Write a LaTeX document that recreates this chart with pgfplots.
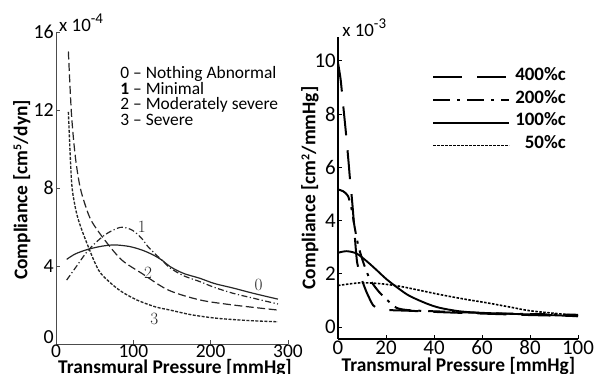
\documentclass[border=0pt]{standalone}
\usepackage{pgfplots}
\pgfplotsset{compat=1.18}
\usepackage{fontspec}
\setmainfont{Carlito}
\definecolor{curvegray}{HTML}{262626}
\begin{document}
\begin{tikzpicture}
\useasboundingbox (0,0) rectangle (594bp,374bp);
% ---------------- left panel ----------------
\begin{axis}[
  at={(56bp,30bp)}, anchor=south west,
  scale only axis, width=232bp, height=312bp,
  xmin=0, xmax=300, ymin=0, ymax=16,
  axis x line*=bottom, axis y line*=left,
  axis line style={-, draw=black!70, line width=1bp},
  xtick={0,100,200,300}, ytick={0,4,8,12,16},
  yticklabels={{\raisebox{7bp}[12.6bp][0pt]{0}},4,8,12,16},
  tick align=inside, major tick length=4bp,
  tick style={draw=black!70, line width=0.8bp},
  /pgf/number format/assume math mode=true,
  ticklabel style={font=\fontsize{20}{20}\selectfont},
  xticklabel style={inner sep=0.5bp, font=\fontsize{19.5}{19.5}\selectfont},
  yticklabel style={inner sep=2bp},
  xlabel={Transmural Pressure [mmHg]},
  xlabel style={font=\bfseries\fontsize{19.5}{19.5}\selectfont, inner sep=0pt, at={(axis description cs:0.513,-0.0945)}, anchor=base},
  ylabel={Compliance [cm\raisebox{6bp}{\fontsize{12}{12}\selectfont 5}/dyn]},
  ylabel style={font=\bfseries\fontsize{19.5}{19.5}\selectfont, inner sep=0pt, at={(axis description cs:-0.147,0.494)}, anchor=center},
  clip=false,
]
\addplot[curvegray, line width=1.2bp, smooth, tension=0.5] coordinates {
 (13.8,4.34) (25,4.62) (41.8,4.86) (60,5.02) (76,5.08) (95,5.0) (111,4.82) (125,4.58) (137,4.3) (147.5,3.97) (165,3.62) (186,3.37) (205,3.1) (229,2.87) (255,2.6) (287,2.3)};
\addplot[curvegray, line width=1.2bp, smooth, tension=0.5, dash pattern=on 6bp off 2.5bp on 1.2bp off 2.5bp] coordinates {
 (13.8,3.28) (25,3.9) (42,4.82) (63,5.59) (83,5.98) (98,5.85) (110,5.45) (119,4.99) (130,4.55) (137,4.3) (147.5,3.9) (165,3.5) (186,3.2) (205,2.9) (229,2.6) (255,2.35) (287,2.05)};
\addplot[curvegray, line width=1.2bp, smooth, tension=0.5, dash pattern=on 8bp off 3.5bp] coordinates {
 (16,15.0) (20,11.8) (25,9.6) (31,8.07) (38,7.1) (46,6.3) (63,5.33) (85,4.31) (111,3.62) (145,2.77) (186,2.26) (229,2.0) (287,1.74)};
\addplot[curvegray, line width=1.35bp, smooth, tension=0.5, dash pattern=on 3bp off 1.5bp] coordinates {
 (16,11.9) (20,8.4) (24,7.2) (29,6.36) (40,5.16) (55,3.79) (70,3.15) (85,2.68) (105,2.25) (128,1.91) (147.5,1.74) (175,1.5) (208,1.32) (250,1.2) (287,1.14)};
\node[anchor=base west, inner sep=0, font=\fontsize{19}{19}\selectfont] at (axis description cs:0.013,1.0) {x 10\raisebox{8bp}{\fontsize{15}{15}\selectfont -4}};
\node[anchor=base west, inner sep=0, font=\fontsize{17.5}{17.5}\selectfont] at (axis cs:83,13.64) {0 -- Nothing Abnormal};
\node[anchor=base west, inner sep=0, font=\fontsize{17.5}{17.5}\selectfont] at (axis cs:83,12.82) {\textbf{1} -- Minimal};
\node[anchor=base west, inner sep=0, font=\fontsize{17.5}{17.5}\selectfont] at (axis cs:83,12.0) {2 -- Moderately severe};
\node[anchor=base west, inner sep=0, font=\fontsize{17.5}{17.5}\selectfont] at (axis cs:83,11.18) {3 -- Severe};
\node[font=\fontsize{17}{17}\selectfont, curvegray] at (axis cs:111,6.0) {$1$};
\node[font=\fontsize{17}{17}\selectfont, curvegray] at (axis cs:119,3.64) {$2$};
\node[font=\fontsize{17}{17}\selectfont, curvegray] at (axis cs:127,1.28) {$3$};
\node[font=\fontsize{17}{17}\selectfont, curvegray] at (axis cs:262,3.03) {$0$};
\end{axis}
% ---------------- right panel ----------------
\begin{axis}[
  at={(338bp,35bp)}, anchor=south west,
  scale only axis, width=240bp, height=302bp,
  xmin=0, xmax=100, ymin=-0.45, ymax=10.9,
  axis x line*=bottom, axis y line*=left,
  axis line style={-, draw=black, line width=1.8bp},
  xtick={0,20,40,60,80,100}, ytick={0,2,4,6,8,10},
  tick align=inside, major tick length=4bp,
  tick style={draw=black, line width=1bp},
  /pgf/number format/assume math mode=true,
  ticklabel style={font=\fontsize{21}{21}\selectfont},
  xticklabel style={inner sep=1.5bp},
  yticklabel style={inner sep=2bp},
  xlabel={Transmural Pressure [mmHg]},
  xlabel style={font=\bfseries\fontsize{19.5}{19.5}\selectfont, inner sep=0pt, at={(axis description cs:0.502,-0.109)}, anchor=base},
  ylabel={Compliance [cm\raisebox{6bp}{\fontsize{12}{12}\selectfont 2}/mmHg]},
  ylabel style={font=\bfseries\fontsize{19.5}{19.5}\selectfont, inner sep=0pt, at={(axis description cs:-0.117,0.5)}, anchor=center},
  clip=false,
  legend cell align=right,
  legend image code/.code={\path[draw=none, fill=none] (0bp,-6bp) rectangle (0.1bp,6bp); \draw[#1] (0bp,-3bp) -- (76bp,-3bp);},
  legend style={at={(axis description cs:0.392,0.897)}, anchor=north west, draw=none, fill=none, inner sep=0pt,
    row sep=10.7bp, font=\bfseries\fontsize{19}{19}\selectfont,
    nodes={inner sep=0pt, text height=12bp, text depth=0bp},
    /tikz/every odd column/.append style={column sep=5bp}},
]
\addplot[black, line width=2bp, smooth, tension=0.4, dash pattern=on 29bp off 15bp] coordinates {
 (0,9.93) (1.1,9.3) (2.2,8.3) (3.3,7.3) (4.3,6.3) (5,5.55) (5.7,4.92) (6.4,4.17) (7.1,3.29) (8,2.41) (9.9,1.79) (12,1.29) (14.6,0.82) (17,0.68) (20.3,0.64) (30,0.61) (42.5,0.56) (62,0.5) (80,0.45) (100,0.41)};
\addlegendentry{400\%c}
\addplot[black, line width=2bp, smooth, tension=0.4, dash pattern=on 17bp off 7bp on 3bp off 7bp] coordinates {
 (0,5.17) (2.2,5.1) (4.2,4.92) (5.7,4.42) (7.1,3.67) (8.5,3.04) (10.6,2.41) (13.3,1.79) (16.8,1.35) (20.3,1.03) (24.4,0.72) (30,0.63) (46.7,0.57) (67.5,0.51) (100,0.46)};
\addlegendentry{200\%c}
\addplot[black, line width=1.9bp, smooth, tension=0.5] coordinates {
 (0,2.79) (3.6,2.85) (7.8,2.76) (12,2.47) (16.1,2.14) (20.3,1.79) (25.8,1.41) (30,1.16) (37,0.88) (42.5,0.72) (50.8,0.59) (60.8,0.53) (81,0.47) (100,0.41)};
\addlegendentry{100\%c}
\addplot[black, line width=1.6bp, smooth, tension=0.5, dash pattern=on 2.5bp off 1.5bp] coordinates {
 (0,1.56) (9,1.66) (17.5,1.63) (25.8,1.53) (34,1.38) (42.5,1.22) (52,1.06) (62,0.91) (71.7,0.75) (81,0.6) (100,0.43)};
\addlegendentry{50\%c}
\node[anchor=base west, inner sep=0, font=\fontsize{19}{19}\selectfont] at (axis description cs:0.017,1.0) {x 10\raisebox{8bp}{\fontsize{15}{15}\selectfont -3}};
\end{axis}
\end{tikzpicture}
\end{document}
